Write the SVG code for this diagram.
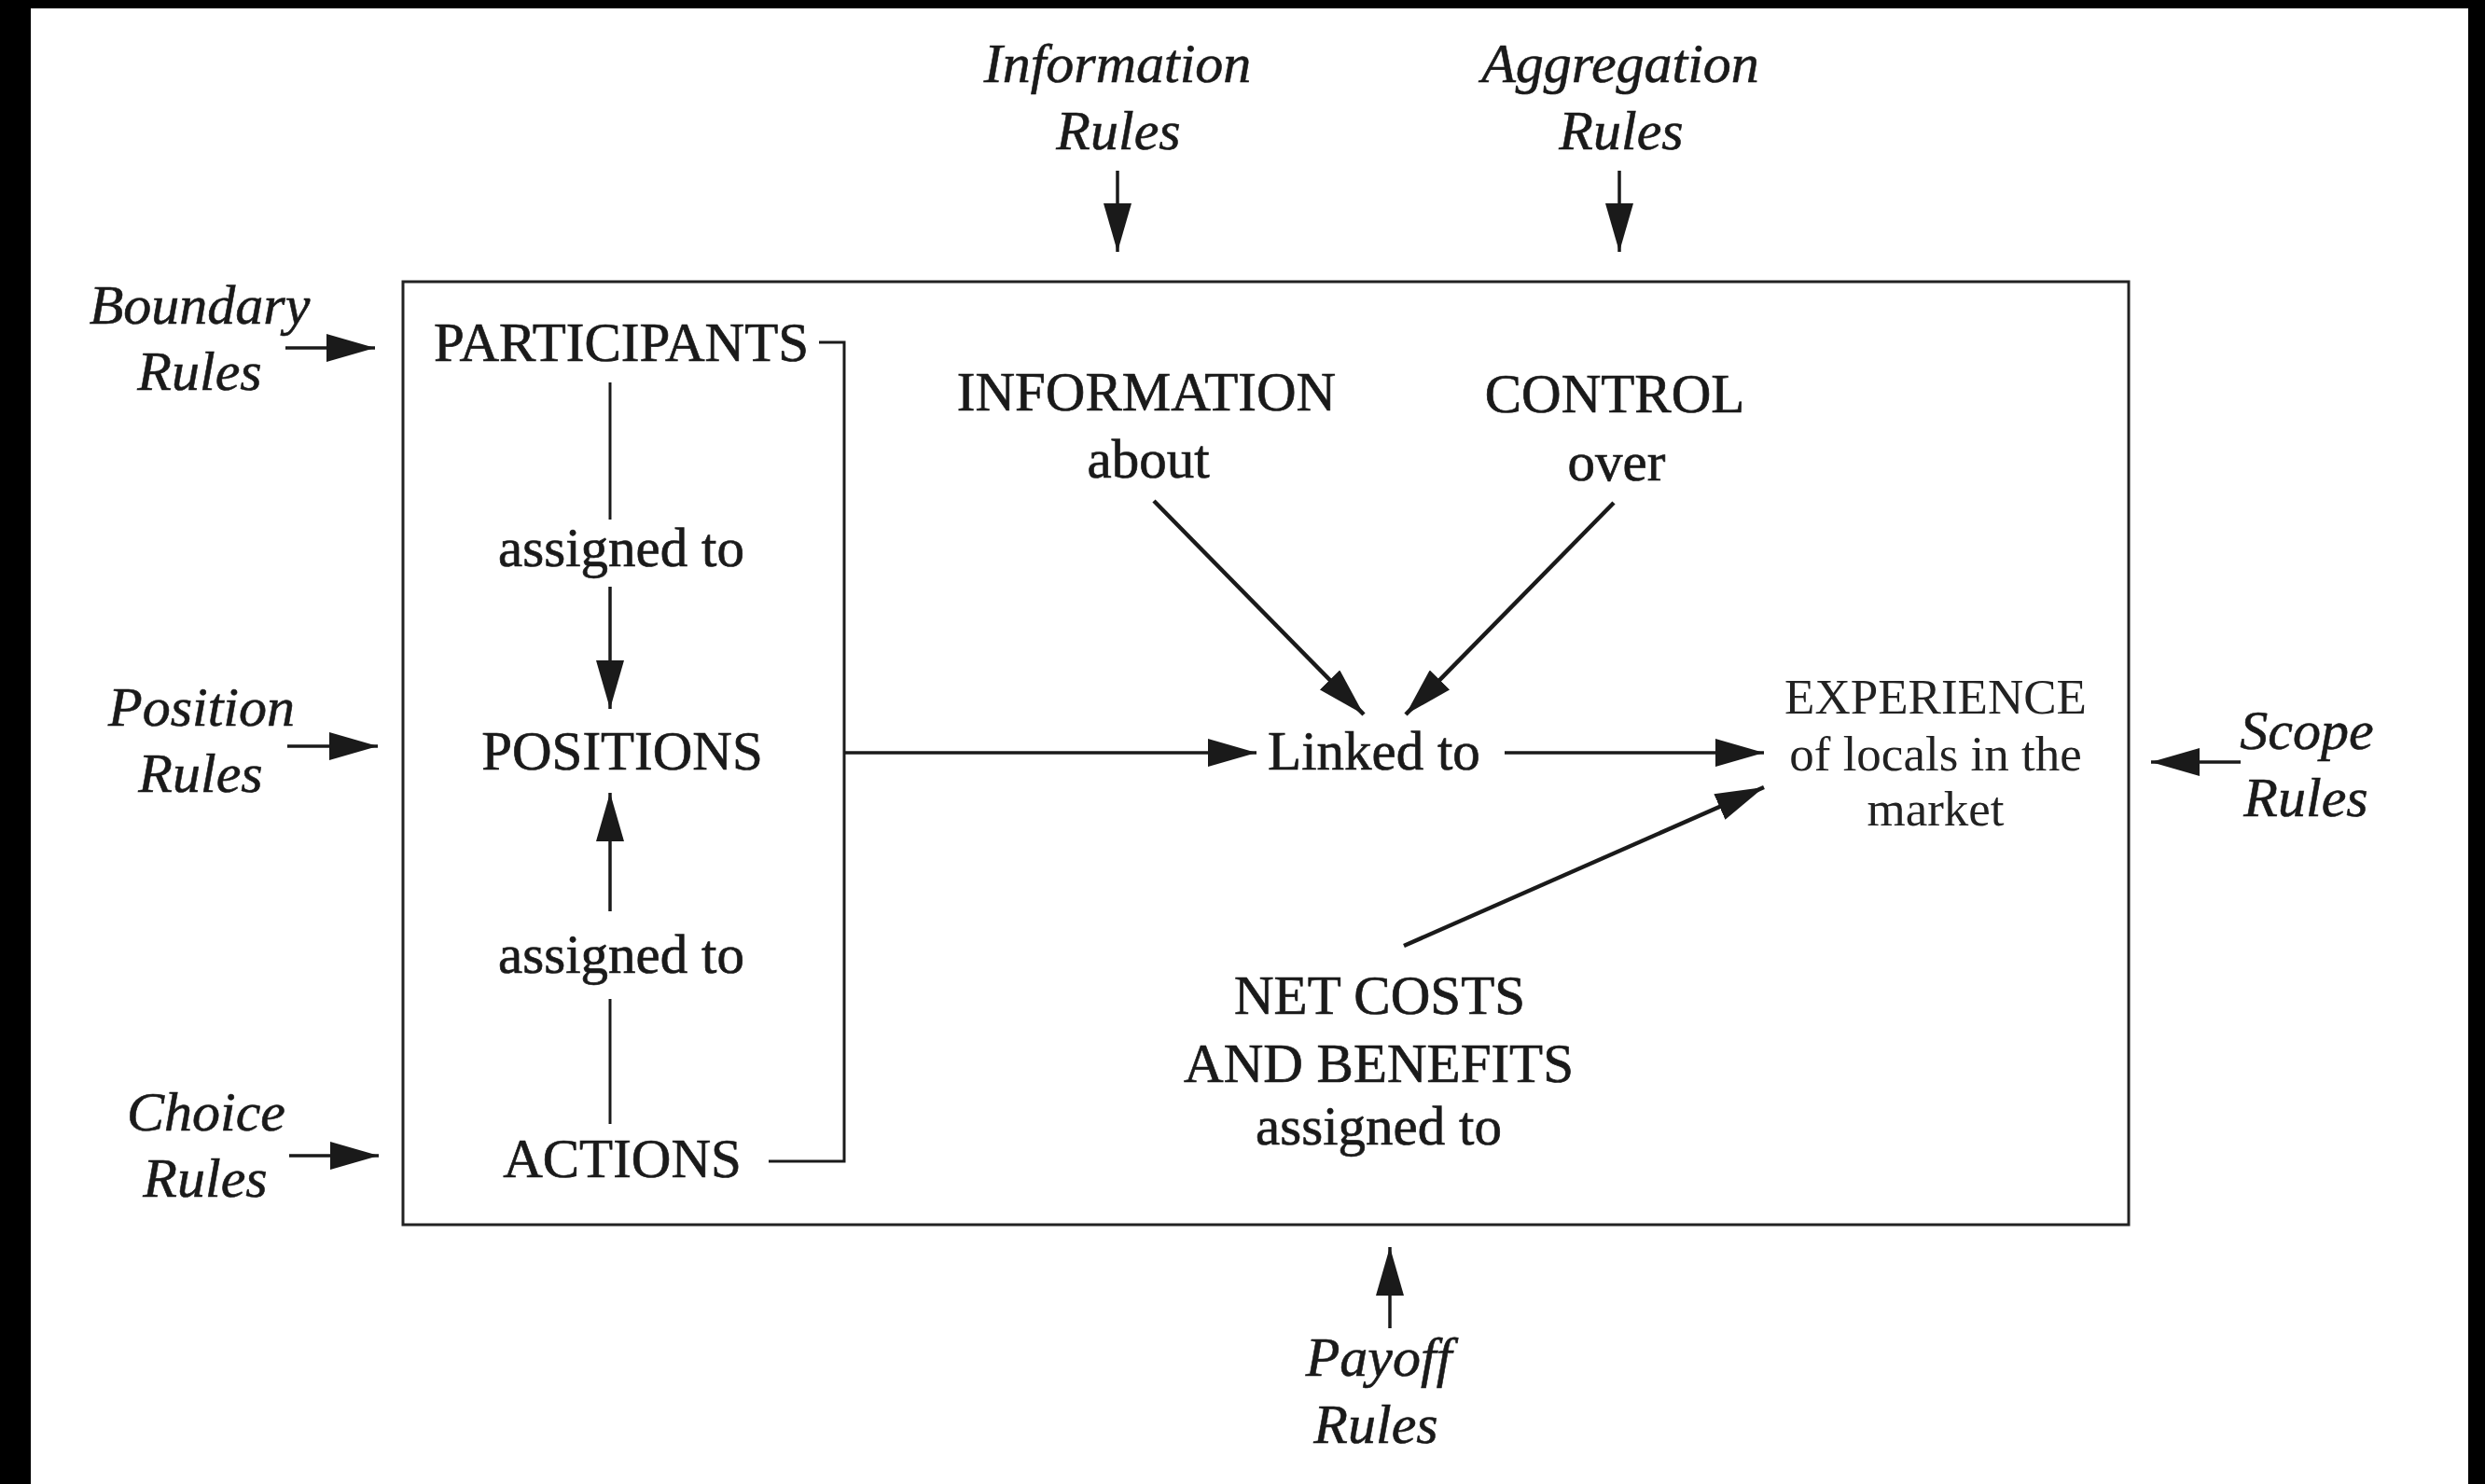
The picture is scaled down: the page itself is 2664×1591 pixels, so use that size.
<svg xmlns="http://www.w3.org/2000/svg" width="2664" height="1591" viewBox="0 0 2664 1591">
  <style>
    .node { font-family: "Liberation Serif", "Times New Roman", serif; font-size: 59px; fill: #1a1a1a; stroke: #1a1a1a; stroke-width: 0.7px; text-anchor: middle; }
    .exp { font-family: "Liberation Serif", "Times New Roman", serif; font-size: 53px; fill: #222; text-anchor: middle; }
    .rule { font-family: "Liberation Serif", "Times New Roman", serif; font-style: italic; font-size: 60px; fill: #1a1a1a; stroke: #1a1a1a; stroke-width: 0.6px; text-anchor: middle; }
    .ln { stroke: #1a1a1a; stroke-width: 3; fill: none; }
    .arw { stroke: #1a1a1a; stroke-width: 3.5; fill: none; marker-end: url(#head); }
    .diag { stroke-width: 4.5; }
  </style>
  <defs>
    <marker id="head" viewBox="0 0 52 30" refX="52" refY="15" markerWidth="52" markerHeight="30" markerUnits="userSpaceOnUse" orient="auto">
      <path d="M0,0 L52,15 L0,30 Z" fill="#1a1a1a"/>
    </marker>
  </defs>

  <!-- page background and dark edge bands -->
  <rect x="0" y="0" width="2664" height="1591" fill="#ffffff"/>
  <rect x="0" y="0" width="2664" height="9" fill="#000"/>
  <rect x="0" y="0" width="33" height="1591" fill="#000"/>
  <rect x="2646" y="0" width="18" height="1591" fill="#000"/>

  <!-- action arena frame -->
  <rect id="arena" x="432" y="302" width="1850" height="1011" fill="none" stroke="#222" stroke-width="3"/>

  <!-- external rule labels -->
  <g id="information-rules"><text class="rule" x="1198" y="88">Information</text><text class="rule" x="1199" y="160">Rules</text></g>
  <g id="aggregation-rules"><text class="rule" x="1737" y="88">Aggregation</text><text class="rule" x="1738" y="160">Rules</text></g>
  <g id="boundary-rules"><text class="rule" x="214" y="347">Boundary</text><text class="rule" x="214" y="418">Rules</text></g>
  <g id="position-rules"><text class="rule" x="216" y="778">Position</text><text class="rule" x="215" y="849">Rules</text></g>
  <g id="choice-rules"><text class="rule" x="221" y="1212">Choice</text><text class="rule" x="220" y="1283">Rules</text></g>
  <g id="payoff-rules"><text class="rule" x="1478" y="1475">Payoff</text><text class="rule" x="1475" y="1547">Rules</text></g>
  <g id="scope-rules"><text class="rule" x="2473" y="803">Scope</text><text class="rule" x="2472" y="875">Rules</text></g>

  <!-- arena elements -->
  <g id="participants"><text class="node" x="666" y="387">PARTICIPANTS</text></g>
  <g id="assigned-1"><text class="node" x="666" y="607">assigned to</text></g>
  <g id="positions"><text class="node" x="667" y="825">POSITIONS</text></g>
  <g id="assigned-2"><text class="node" x="666" y="1043">assigned to</text></g>
  <g id="actions"><text class="node" x="667" y="1262">ACTIONS</text></g>
  <g id="information"><text class="node" x="1229" y="440">INFORMATION</text><text class="node" x="1231" y="512">about</text></g>
  <g id="control"><text class="node" x="1731" y="442">CONTROL</text><text class="node" x="1733" y="515">over</text></g>
  <g id="linked"><text class="node" x="1473" y="825">Linked to</text></g>
  <g id="net-costs"><text class="node" x="1479" y="1087">NET COSTS</text><text class="node" x="1478" y="1160">AND BENEFITS</text><text class="node" x="1478" y="1227">assigned to</text></g>
  <g id="experience"><text class="exp" x="2075" y="765">EXPERIENCE</text><text class="exp" x="2075" y="826">of locals in the</text><text class="exp" x="2075" y="885">market</text></g>

  <g id="connectors">
    <!-- rules acting on the arena -->
    <line class="arw" x1="1198" y1="183" x2="1198" y2="270"/>
    <line class="arw" x1="1736" y1="183" x2="1736" y2="270"/>
    <line class="arw" x1="306" y1="373" x2="402" y2="373"/>
    <line class="arw" x1="308" y1="800" x2="405" y2="800"/>
    <line class="arw" x1="310" y1="1239" x2="406" y2="1239"/>
    <line class="arw" x1="2402" y1="817" x2="2306" y2="817"/>
    <line class="arw" x1="1490" y1="1424" x2="1490" y2="1337"/>

    <!-- participants / actions assigned to positions -->
    <line class="ln" x1="654" y1="410" x2="654" y2="557"/>
    <line class="arw" x1="654" y1="629" x2="654" y2="760"/>
    <line class="arw" x1="654" y1="977" x2="654" y2="850"/>
    <line class="ln" x1="654" y1="1071" x2="654" y2="1205"/>

    <!-- bracket joining participants, positions, actions -->
    <polyline class="ln" points="878,367 905,367 905,1245 824,1245"/>
    <line class="arw" x1="905" y1="807" x2="1347" y2="807"/>

    <!-- information and control converge on the link -->
    <line class="arw diag" x1="1237" y1="537" x2="1462" y2="766"/>
    <line class="arw diag" x1="1730" y1="539" x2="1507" y2="766"/>

    <!-- outcomes -->
    <line class="arw" x1="1613" y1="807" x2="1891" y2="807"/>
    <line class="arw diag" x1="1505" y1="1014" x2="1891" y2="844"/>
  </g>
</svg>
